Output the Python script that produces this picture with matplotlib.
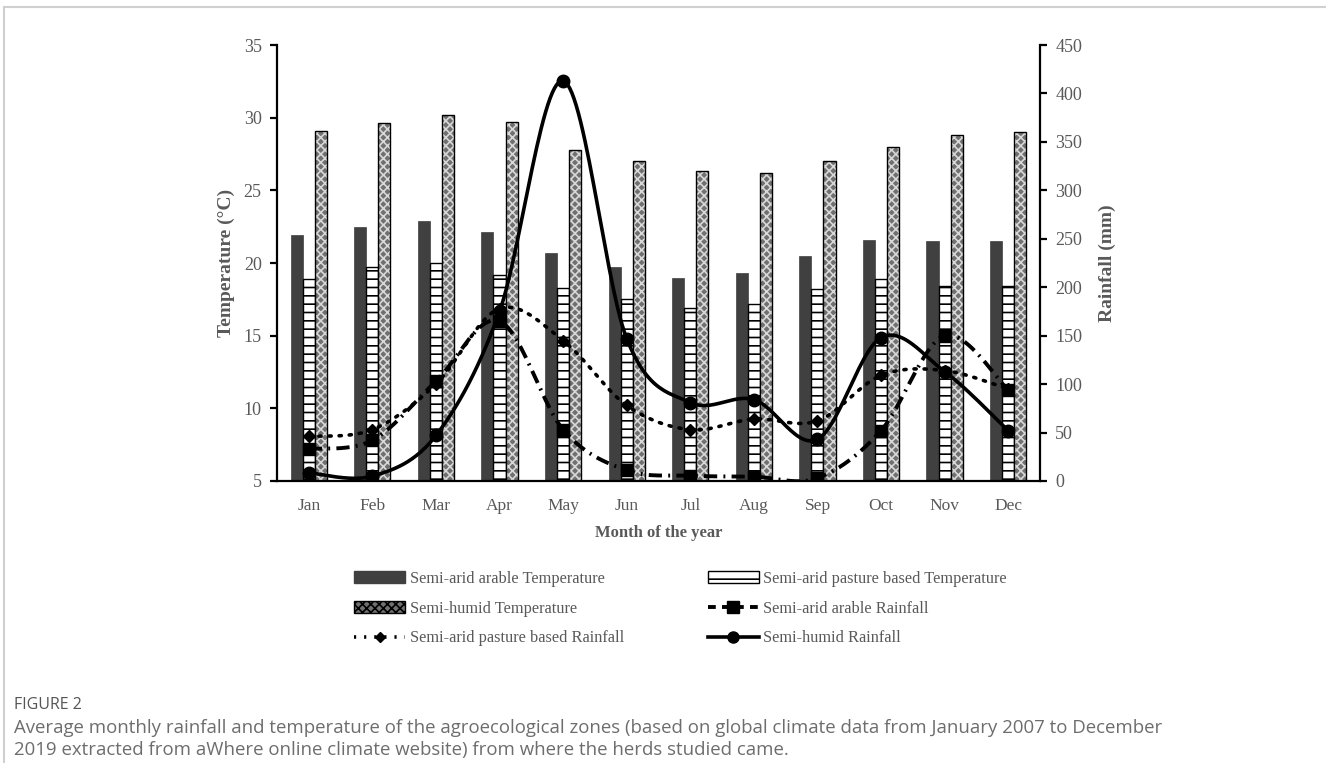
import numpy as np
import matplotlib
matplotlib.use('Agg')
import matplotlib.pyplot as plt
from matplotlib.lines import Line2D
from matplotlib.patches import Patch

months = ['Jan', 'Feb', 'Mar', 'Apr', 'May', 'Jun', 'Jul', 'Aug', 'Sep', 'Oct', 'Nov', 'Dec']

# temperature (deg C) - bars
temp_arable = [21.9, 22.5, 22.9, 22.1, 20.7, 19.7, 19.0, 19.3, 20.5, 21.6, 21.5, 21.5]
temp_pasture = [18.9, 19.7, 20.0, 19.2, 18.3, 17.5, 16.9, 17.2, 18.2, 18.9, 18.4, 18.4]
temp_humid = [29.1, 29.6, 30.2, 29.7, 27.8, 27.0, 26.3, 26.2, 27.0, 28.0, 28.8, 29.0]

# rainfall (mm) - lines
rain_arable = [33, 42, 103, 165, 53, 11, 5.5, 4.5, 3, 52, 150, 94]
rain_pasture = [46, 53, 100, 178, 145, 78, 53, 64, 62, 109, 114, 95]
rain_humid = [8.5, 5, 47, 175, 413, 147, 81, 84, 43, 148, 113, 52]

grey = '#595959'
serif = ['Liberation Serif', 'DejaVu Serif']


def smooth(x, y, n=30):
    # excel style smoothed line (bezier through the points)
    p = np.column_stack([x, y]).astype(float)
    out = []
    for i in range(len(p) - 1):
        p0 = p[i - 1] if i > 0 else p[i]
        p1 = p[i]
        p2 = p[i + 1]
        p3 = p[i + 2] if i + 2 < len(p) else p[i + 1]
        c1 = p1 + (p2 - p0) / 6
        c2 = p2 - (p3 - p1) / 6
        t = np.linspace(0, 1, n)[:, None]
        seg = (1 - t)**3 * p1 + 3 * (1 - t)**2 * t * c1 + 3 * (1 - t) * t**2 * c2 + t**3 * p2
        out.append(seg if i == 0 else seg[1:])
    out = np.vstack(out)
    return out[:, 0], out[:, 1]


plt.rcParams['hatch.linewidth'] = 1.2

fig = plt.figure(figsize=(13.26, 7.63), dpi=100)
ax = fig.add_axes([0.2089, 0.3696, 0.5754, 0.5714])
ax2 = ax.twinx()

x = np.arange(len(months))
w = 0.19
ax.bar(x - w, temp_arable, w, color='#404040', edgecolor='#404040', linewidth=0.5, zorder=2)
ax.bar(x, temp_pasture, w, color='white', edgecolor='black', hatch='--', linewidth=1, zorder=2)
ax.bar(x + w, temp_humid, w, color='#707070', edgecolor='#d8d8d8', hatch='xxxx', linewidth=0, zorder=2)
ax.bar(x + w, temp_humid, w, color='none', edgecolor='black', linewidth=1, zorder=3)

ax.set_ylim(5, 35)
ax.set_xlim(-0.5, 11.5)
ax.set_yticks(range(5, 36, 5))
ax.set_xticks(x)
ax.set_xticklabels(months)
ax2.set_ylim(0, 450)
ax2.set_yticks(range(0, 451, 50))

# rainfall lines
dashdot = (0, (3.4, 1.6, 0.5, 1.6))
dotted = (0, (0.6, 2.2))
sx, sy = smooth(x, rain_arable)
ax2.plot(sx, sy, color='black', lw=2.8, linestyle=dashdot, zorder=4)
ax2.plot(x, rain_arable, 's', color='black', ms=9, zorder=5)
sx, sy = smooth(x, rain_pasture)
ax2.plot(sx, sy, color='black', lw=2.6, linestyle=dotted, dash_capstyle='round', zorder=4)
ax2.plot(x, rain_pasture, 'D', color='black', ms=6, zorder=5)
sx, sy = smooth(x, rain_humid)
ax2.plot(sx, sy, color='black', lw=2.6, zorder=4)
ax2.plot(x, rain_humid, 'o', color='black', ms=9, zorder=5)

ax.set_zorder(1)
ax2.set_zorder(2)
ax.patch.set_visible(False)

for a in (ax, ax2):
    a.spines['top'].set_visible(False)
    for s in a.spines.values():
        s.set_linewidth(1.6)
ax.spines['right'].set_visible(False)
ax2.spines['left'].set_visible(False)
ax2.spines['bottom'].set_visible(False)

ax.tick_params(axis='x', length=0, pad=12, labelsize=12.5, labelcolor=grey)
ax.tick_params(axis='y', length=5, width=1.6, pad=6, labelsize=13, labelcolor=grey)
ax2.tick_params(axis='y', length=5, width=1.6, pad=6, labelsize=13, labelcolor=grey)
for lab in ax.get_xticklabels() + ax.get_yticklabels() + ax2.get_yticklabels():
    lab.set_family(serif)

ax.set_xlabel('Month of the year', family=serif, fontsize=12, fontweight='bold', color=grey, labelpad=8)
ax.set_ylabel('Temperature (°C)', family=serif, fontsize=14, fontweight='bold', color=grey, labelpad=6)
ax2.set_ylabel('Rainfall (mm)', family=serif, fontsize=14, fontweight='bold', color=grey, labelpad=12)

h_arT = Patch(facecolor='#404040', edgecolor='#404040')
h_paT = Patch(facecolor='white', edgecolor='black', hatch='--')
h_huT = Patch(facecolor='#707070', edgecolor='black', hatch='xxxx')
h_arR = Line2D([], [], color='black', lw=2.8, linestyle=(0, (2, 1.6)), marker='s', ms=8)
h_paR = Line2D([], [], color='black', lw=2.6, linestyle=dotted, marker='D', ms=5)
h_huR = Line2D([], [], color='black', lw=2.6, marker='o', ms=8)
handles = [h_arT, h_huT, h_paR, h_paT, h_arR, h_huR]
labels = ['Semi-arid arable Temperature', 'Semi-humid Temperature', 'Semi-arid pasture based Rainfall',
          'Semi-arid pasture based Temperature', 'Semi-arid arable Rainfall', 'Semi-humid Rainfall']
leg = fig.legend(handles, labels, ncol=2, loc='upper left', bbox_to_anchor=(0.256, 0.2713),
                 frameon=False, prop={'family': serif, 'size': 11.8}, handlelength=3.1, handleheight=0.7,
                 columnspacing=5.1, labelspacing=0.84, handletextpad=0.3)
for t in leg.get_texts():
    t.set_color(grey)

# caption
fig.text(0.0106, 0.076, 'FIGURE 2', fontsize=11.5, color='#555555', family='Open Sans', va='center')
fig.text(0.0106, 0.0459, 'Average monthly rainfall and temperature of the agroecological zones (based on global '
         'climate data from January 2007 to December', fontsize=13.4, color='#6d6d6d', family='Open Sans',
         va='center')
fig.text(0.0106, 0.017, '2019 extracted from aWhere online climate website) from where the herds studied came.',
         fontsize=13.4, color='#6d6d6d', family='Open Sans', va='center')

# page frame
fig.add_artist(Line2D([0.003, 1], [0.991, 0.991], color='#d0d0d0', lw=1.5))
fig.add_artist(Line2D([0.003, 0.003], [0, 0.991], color='#d0d0d0', lw=1.5))

fig.savefig('out.png', dpi=100)
